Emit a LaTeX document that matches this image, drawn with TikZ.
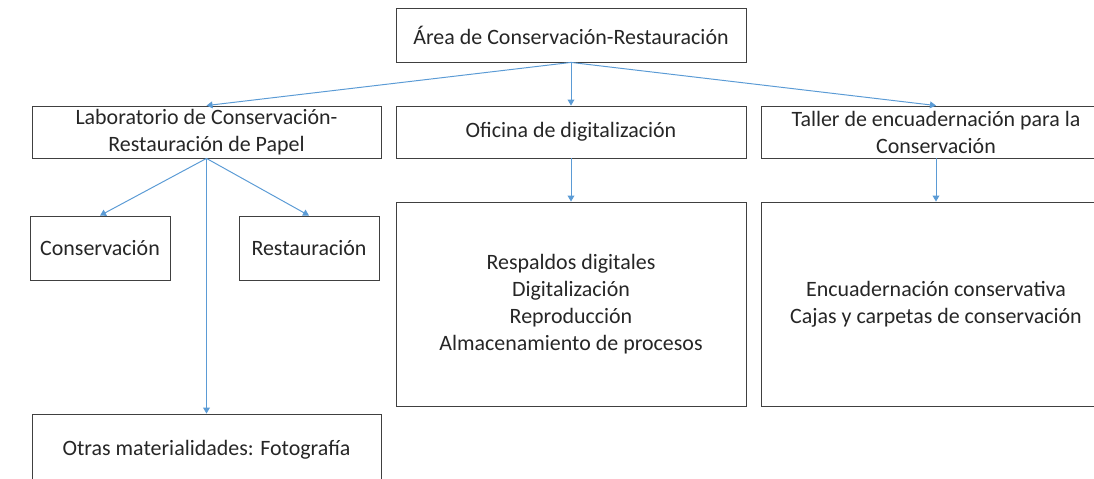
\documentclass[tikz,border=0pt]{standalone}
\usepackage{fontspec}
\setmainfont{Carlito}
\definecolor{officeblue}{HTML}{5B9BD5}
\definecolor{boxgray}{HTML}{404040}
\definecolor{textgray}{HTML}{262626}
\usetikzlibrary{arrows.meta}
\tikzset{
    orgbox/.style={
        draw=boxgray,
        fill=white,
        line width=0.6pt,
        minimum width=8.75cm,
        minimum height=1.3cm,
        inner sep=1pt,
        align=center,
        text=textgray,
        font=\fontsize{15.6}{19.2}\selectfont
    },
    orgsmall/.style={
        orgbox,
        minimum width=3.5cm,
        minimum height=1.6cm
    },
    orgtall/.style={
        orgbox,
        minimum height=5.1cm
    },
    orgarrow/.style={
        -{Triangle[length=1.5mm,width=1.7mm]},
        draw=officeblue,
        line width=0.7pt
    }
}

\begin{document}
\begin{tikzpicture}[x=0.025cm,y=-0.025cm]
        \useasboundingbox (0,0) rectangle (1094,479);
        \clip (0,0) rectangle (1094,479);

        \node[orgbox,minimum height=1.35cm] (area) at (571,35)
            {Área de Conservación-Restauración};
        \node[orgbox,minimum width=8.725cm] (lab) at (206.5,132)
            {Laboratorio de Conservación-\\Restauración de Papel};
        \node[orgbox] (oficina) at (571,132)
            {Oficina de digitalización};
        \node[orgbox] (taller) at (936,132)
            {Taller de encuadernación para la\\Conservación};
        \node[orgsmall] (conserv) at (100,248) {Conservación};
        \node[orgsmall] (restaur) at (309,248) {Restauración};
        \node[orgbox,minimum width=8.725cm,minimum height=1.8cm] (otras)
            at (206.5,450) {Otras materialidades: Fotografía};
        \node[orgtall] (respaldos) at (571,304)
            {Respaldos digitales\\Digitalización\\Reproducción\\
             Almacenamiento de procesos};
        \node[orgtall] (encuad) at (936,304)
            {Encuadernación conservativa\\Cajas y carpetas de conservación};

        \draw[orgarrow] (area.south) -- (lab.north);
        \draw[orgarrow] (area.south) -- (oficina.north);
        \draw[orgarrow] (area.south) -- (taller.north);
        \draw[orgarrow] (lab.south) -- (conserv.north);
        \draw[orgarrow] (lab.south) -- (restaur.north);
        \draw[orgarrow] (lab.south) -- (otras.north);
        \draw[orgarrow] (oficina.south) -- (respaldos.north);
        \draw[orgarrow] (taller.south) -- (encuad.north);
    \end{tikzpicture}
\end{document}
